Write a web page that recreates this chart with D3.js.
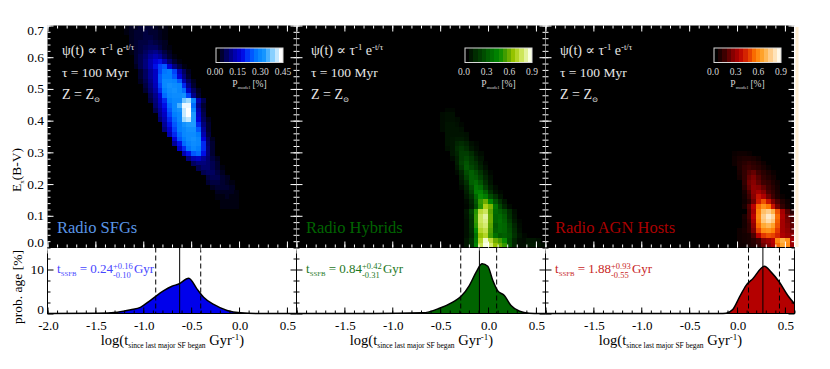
<!DOCTYPE html>
<html>
<head>
<meta charset="utf-8">
<title>Radio SFGs, Hybrids and AGN hosts</title>
<script src="https://cdn.jsdelivr.net/npm/d3@7"></script>
<style>
    body { margin: 0; background: #fff; }
    text { font-family: "Liberation Serif", "DejaVu Serif", serif; }
</style>
</head>
<body>
<script>
// heat map cells, one line per row: [row from bottom, first column, P_model in 0.01 %]
var sfgCells = [
    [45,16,[1,2,2,3,3,3,2,1,1]], [44,16,[1,2,3,3,4,3,3,2,1]], [43,17,[2,3,3,4,4,3,2,1]],
    [42,17,[2,3,4,4,5,4,3,2]], [41,17,[2,3,4,5,6,6,4,2,1]], [40,17,[1,3,4,6,8,9,7,4,2]],
    [39,18,[3,5,7,10,12,10,6,3,1]], [38,18,[3,5,8,12,16,18,12,7,3,1]], [37,18,[2,5,8,12,18,22,24,16,8,4,1]],
    [36,19,[3,6,10,14,22,27,28,22,12,6,2]], [35,19,[3,6,10,14,24,28,28,24,16,8,3]],
    [34,19,[2,5,9,14,24,30,30,29,24,12,6,2]], [33,20,[4,8,13,22,30,32,31,30,20,9,3]],
    [32,20,[3,7,11,20,28,31,32,30,26,14,6,2]], [31,21,[5,9,16,26,30,31,31,32,22,9,3]],
    [30,21,[4,8,14,20,28,30,30,38,40,30,12,5]], [29,22,[7,12,18,26,30,36,44,44,26,9,3]],
    [28,22,[5,10,16,24,30,32,42,45,30,12,4]], [27,23,[9,14,22,28,30,42,45,34,14,5]],
    [26,23,[7,12,20,26,30,40,42,34,16,6,2]], [25,24,[10,18,24,28,32,34,34,20,8,3]],
    [24,24,[8,15,22,28,30,32,32,24,10,3]], [23,25,[12,20,26,30,31,31,28,12,4]],
    [22,26,[16,24,28,31,32,30,16,6,2]], [21,26,[10,18,26,29,31,30,20,7,3]],
    [20,27,[14,20,27,30,28,20,8,3]], [19,28,[12,18,24,26,18,8,3]], [18,29,[8,12,14,10,7,4,2]],
    [17,30,[6,8,8,7,5,3]], [16,31,[5,7,7,5,3,1]], [15,32,[5,6,6,4,2]], [14,33,[4,5,5,3,2]],
    [13,33,[3,4,4,3,2,1]], [12,34,[2,3,3,3,2]], [11,35,[2,2,2,2,1]], [10,35,[1,1,2,1,1]],
    [9,36,[1,1,1,1]], [8,36,[1,1,1,1]]
];
var hybridCells = [
    [28,31,[2,2]], [27,30,[3,4,4]], [26,30,[3,4,4,3]], [25,30,[3,5,5,4,2]], [24,30,[3,5,5,5,4]],
    [23,31,[5,5,5,5,4]], [22,31,[5,6,7,7,5]], [21,31,[5,6,10,12,9,4,2]], [20,31,[4,6,12,16,12,6,3]],
    [19,32,[6,10,18,18,12,6,3]], [18,32,[3,8,18,22,16,9,5]], [17,33,[8,20,26,18,14,7,2]],
    [16,33,[6,16,28,22,16,9,4]], [15,33,[3,10,24,30,24,15,7,2]], [14,34,[8,20,30,28,20,10,4]],
    [13,34,[6,14,30,34,26,13,5]], [12,34,[3,10,24,38,34,20,8,3]], [11,35,[8,20,40,42,30,14,5,2]],
    [10,35,[6,14,32,46,40,24,14,5]], [9,35,[3,10,28,52,60,44,26,14,6]],
    [8,35,[2,8,24,50,70,62,38,22,10,3]], [7,35,[6,20,50,74,78,58,34,30,24,12,4]],
    [6,35,[5,16,52,78,84,60,32,34,28,14,5]], [5,35,[4,14,52,78,82,60,32,36,30,18,7,2]],
    [4,35,[4,14,50,76,80,58,28,34,32,22,10,3]], [3,35,[4,12,44,72,76,56,30,34,32,24,12,4]],
    [2,35,[4,10,36,66,72,54,36,28,30,26,14,6,2]], [1,35,[6,14,40,72,88,74,60,54,46,24,10,4,3,6,6,4]],
    [0,35,[6,14,44,76,90,80,66,60,52,26,10,4,4,7,7,5,3]]
];
var agnCells = [
    [19,39,[2,3,3,2]], [18,39,[3,5,6,6,5,3]], [17,39,[3,6,8,10,8,6,3]], [16,40,[6,10,12,10,8,5,2]],
    [15,40,[5,10,15,18,12,8,5,2]], [14,40,[4,10,18,22,16,10,7,4]], [13,41,[10,20,24,18,12,10,6,3]],
    [12,41,[8,18,26,24,18,12,8,4]], [11,41,[5,14,26,30,24,14,10,5]], [10,41,[4,12,24,38,32,20,12,6,2]],
    [9,41,[3,8,20,40,50,38,22,14,7,3]], [8,41,[5,16,34,54,62,56,38,20,10,4]],
    [7,42,[14,30,58,74,78,70,50,30,16,8]], [6,41,[5,14,34,60,78,86,80,54,32,20,14]],
    [5,41,[4,12,30,58,76,82,76,52,30,22,16]], [4,41,[4,10,26,54,68,72,66,50,30,24,18]],
    [3,40,[3,5,10,22,48,60,62,58,46,30,26,20]], [2,40,[3,4,5,14,34,46,50,48,42,32,28,26]],
    [1,40,[3,4,5,8,12,24,28,34,60,70,62,30]], [0,40,[3,3,5,7,10,20,24,32,54,66,60,28]]
];

// colour ramps and their colour bar ticks
var blueRamp = ["#000000","#00005a","#0000a8","#0000e0","#0048ff","#0080ff","#1898ff","#90d4ff","#ffffff"];
var greenRamp = ["#000000","#002a00","#004800","#006a00","#008a00","#50a000","#a0c800","#d0e860","#f8ffe0"];
var redRamp = ["#000000","#380000","#800000","#b80000","#e03000","#ff7a00","#ffa830","#ffd090","#fff8e8"];
var sfgBarTicks = ["0.00","0.15","0.30","0.45"];
var otherBarTicks = ["0.0","0.3","0.6","0.9"];

// age probability curves
var sfgAge = [-2,-1.48,-1.27,-1.13,-1.03,-0.925,-0.786,-0.70,-0.63,-0.525,-0.44,-0.37,-0.265,-0.125,0.015,0.22,0.6];
var sfgProb = [0,0.07,0.3,0.84,1.4,3.0,5.2,6.2,6.7,8.0,5.6,3.7,2.05,0.68,0.16,0,0];
var hybridAge = [-2,-1.2,-0.681,-0.507,-0.368,-0.281,-0.194,-0.124,-0.062,-0.003,0.05,0.10,0.17,0.24,0.33,0.43,0.54,0.6];
var hybridProb = [0,0,0.15,1.2,2.6,3.9,6.4,9.4,11.3,10.75,7.5,5.2,4.1,1.8,0.5,0.07,0,0];
var agnAge = [-2,-0.18,-0.114,-0.045,0.025,0.095,0.165,0.286,0.356,0.443,0.53,0.6];
var agnProb = [0,0,0.07,0.9,3.7,6.4,7.9,10.75,9.4,7.1,4.1,2.2];

// 16th, 50th and 84th percentile lines
var sfgLines = [-0.87,-0.62,-0.40];
var hybridLines = [-0.285,-0.09,0.09];
var agnLines = [0.12,0.27,0.443];

var colTicks = [-2,-1.5,-1,-0.5,0,0.5];
var eTicks = [0,0.1,0.2,0.3,0.4,0.5,0.6,0.7];
var probTicks = [0,10];

var panels = [
    {name: "Radio SFGs", nameColor: "#5a96e6", cells: sfgCells, ramp: blueRamp, max: 45, barTicks: sfgBarTicks,
     age: sfgAge, prob: sfgProb, lines: sfgLines, fill: "#0000eb", tColor: "#4646ff", t: ["0.24","+0.16","-0.10"], first: true},
    {name: "Radio Hybrids", nameColor: "#006400", cells: hybridCells, ramp: greenRamp, max: 90, barTicks: otherBarTicks,
     age: hybridAge, prob: hybridProb, lines: hybridLines, fill: "#006400", tColor: "#1e781e", t: ["0.84","+0.42","-0.31"], first: false},
    {name: "Radio AGN Hosts", nameColor: "#aa0000", cells: agnCells, ramp: redRamp, max: 90, barTicks: otherBarTicks,
     age: agnAge, prob: agnProb, lines: agnLines, fill: "#b40000", tColor: "#c81e1e", t: ["1.88","+0.93","-0.55"], first: false}
];

var w = 830, h = 369;
var panelLeft = 47.5, panelW = 249;
var top1 = 25.5, bot1 = 247.5, bot2 = 313.5;

var svg = d3.select("body").append("svg").attr("width", w).attr("height", h).style("display", "block");

var yE = d3.scaleLinear().domain([0, 0.7]).range([bot1, top1]);
var yProb = d3.scaleLinear().domain([0, 15]).range([bot2, bot1]);
var rowBand = d3.scaleBand().domain(d3.range(46)).range([bot1, top1]);

var xMinor = d3.range(-20, 7).map(function(d) { return d / 10; });
var eMinor = d3.range(0, 36).map(function(d) { return d / 50; });
var probMinor = [2.5, 5, 7.5, 12.5, 15];

panels.forEach(function(p, i) {
    var x0 = panelLeft + i * panelW;
    drawPanel(p, x0, x0 + panelW);
});

// cream strip on the right of the last heat map
svg.append("rect").attr("x", 795.5).attr("y", 27).attr("width", 3).attr("height", 220).attr("fill", "#ffeed2");

function drawPanel(p, x0, x1) {
    var x = d3.scaleLinear().domain([-2, 0.6]).range([x0, x1]);
    var colBand = d3.scaleBand().domain(d3.range(52)).range([x0, x1]);
    var color = d3.scaleLinear()
        .domain(p.ramp.map(function(d, i) { return p.max * i / (p.ramp.length - 1); }))
        .range(p.ramp);

    // heat map
    svg.append("rect").attr("x", x0).attr("y", top1).attr("width", x1 - x0).attr("height", bot1 - top1).attr("fill", "#000");

    var cells = [];
    p.cells.forEach(function(r) {
        r[2].forEach(function(v, k) { cells.push({row: r[0], col: r[1] + k, v: v}); });
    });
    svg.append("g").selectAll("rect")
        .data(cells).enter().append("rect")
        .attr("x", function(d) { return colBand(d.col); })
        .attr("y", function(d) { return rowBand(d.row); })
        .attr("width", colBand.bandwidth() + 0.3)
        .attr("height", rowBand.bandwidth() + 0.3)
        .attr("shape-rendering", "crispEdges")
        .attr("fill", function(d) { return color(d.v); });

    svg.append("line").attr("x1", x1).attr("x2", x1).attr("y1", top1).attr("y2", bot1).attr("stroke", "#fff").attr("stroke-width", 1);

    // white ticks on the heat map
    var wTicks = svg.append("g");
    ticks(wTicks, d3.axisBottom(x), bot1, "y", colTicks, xMinor, "#fff");
    ticks(wTicks, d3.axisTop(x), top1, "y", colTicks, xMinor, "#fff");
    ticks(wTicks, d3.axisLeft(yE), x0, "x", eTicks, eMinor, "#fff");
    ticks(wTicks, d3.axisRight(yE), x1, "x", eTicks, eMinor, "#fff");

    // annotations
    var ax = x0 + 14.5;
    var note = svg.append("g").attr("fill", "#e6e6e6");
    rich(note.append("text").attr("x", ax).attr("y", 55).attr("font-size", 14),
        [["ψ(t) ∝ τ"], ["-1", "sup"], [" e"], ["-t/τ", "sup"]]);
    note.append("text").attr("x", ax).attr("y", 77).attr("font-size", 13.5).text("τ = 100 Myr");
    rich(note.append("text").attr("x", ax).attr("y", 99).attr("font-size", 14), [["Z = Z"], ["⊙", "sub"]]);

    svg.append("text").attr("x", x0 + 9.5).attr("y", 233).attr("font-size", 16.5).attr("fill", p.nameColor).text(p.name);

    drawColorBar(p, color, x0 + 168.5);

    // lower panel: age probability
    var area = d3.area().x(function(d) { return x(d[0]); }).y0(yProb(0)).y1(function(d) { return yProb(d[1]); }).curve(d3.curveMonotoneX);
    var line = d3.line().x(function(d) { return x(d[0]); }).y(function(d) { return yProb(d[1]); }).curve(d3.curveMonotoneX);
    var pts = d3.zip(p.age, p.prob);

    svg.append("path").datum(pts).attr("d", area).attr("fill", p.fill);
    svg.append("path").datum(pts).attr("d", line).attr("fill", "none").attr("stroke", "#000").attr("stroke-width", 1.5);

    p.lines.forEach(function(v, k) {
        svg.append("line")
            .attr("x1", x(v)).attr("x2", x(v)).attr("y1", bot1).attr("y2", bot2)
            .attr("stroke", "#000").attr("stroke-width", 1)
            .attr("stroke-dasharray", k == 1 ? null : "5,3");
    });

    svg.append("rect").attr("x", x0).attr("y", bot1).attr("width", x1 - x0).attr("height", bot2 - bot1)
        .attr("fill", "none").attr("stroke", "#000").attr("stroke-width", 1);

    var bTicks = svg.append("g");
    ticks(bTicks, d3.axisBottom(x), bot2, "y", colTicks, xMinor, "#000");
    ticks(bTicks, d3.axisTop(x), bot1, "y", colTicks, xMinor, "#fff");
    ticks(bTicks, d3.axisLeft(yProb), x0, "x", probTicks, probMinor, "#000");
    ticks(bTicks, d3.axisRight(yProb), x1, "x", probTicks, probMinor, "#000");

    // bottom tick labels
    colTicks.forEach(function(t) {
        if (t == -2 && !p.first) return;
        svg.append("text").attr("x", x(t) + 1).attr("y", 330).attr("text-anchor", "middle").attr("font-size", 13).text(t.toFixed(1));
    });

    rich(svg.append("text").attr("x", x0 + 125).attr("y", 345).attr("text-anchor", "middle").attr("font-size", 14.5),
        [["log(t"], ["since last major SF began", "sub"], [" Gyr"], ["-1", "sup"], [")"]]);

    // t_SSFB label, sup and sub stacked
    var tLabel = svg.append("text").attr("x", x0 + 9.5).attr("y", 273).attr("font-size", 13).attr("fill", p.tColor);
    rich(tLabel, [["t"], ["SSFB", "sub"], [" = " + p.t[0]]]);
    var endX = tLabel.node().getComputedTextLength() + x0 + 9.5;
    svg.append("text").attr("x", endX).attr("y", 268.5).attr("font-size", 8.5).attr("fill", p.tColor).text(p.t[1]);
    svg.append("text").attr("x", endX).attr("y", 277.5).attr("font-size", 8.5).attr("fill", p.tColor).text(p.t[2]);
    svg.append("text").attr("x", endX + 21).attr("y", 273).attr("font-size", 13).attr("fill", p.tColor).text("Gyr");

    if (p.first) {
        eTicks.forEach(function(t) {
            var dy = t == 0.7 ? 9 : (t == 0 ? -1 : 4.5);
            svg.append("text").attr("x", 44).attr("y", yE(t) + dy).attr("text-anchor", "end").attr("font-size", 13.5).text(t.toFixed(1));
        });
        probTicks.forEach(function(t) {
            svg.append("text").attr("x", 44).attr("y", yProb(t) + (t == 0 ? 0.5 : 4.5)).attr("text-anchor", "end").attr("font-size", 13.5).text(t);
        });
        rich(svg.append("text").attr("transform", "translate(21,170) rotate(-90)").attr("text-anchor", "middle").attr("font-size", 13.5),
            [["E"], ["x", "sub"], ["(B-V)"]]);
        svg.append("text").attr("transform", "translate(22,287) rotate(-90)").attr("text-anchor", "middle").attr("font-size", 13.5).text("prob. age [%]");
    }
}

function drawColorBar(p, color, bx) {
    var bw = 67, by = 48, bh = 14.5;
    var blocks = d3.range(16);
    var band = d3.scaleBand().domain(blocks).range([bx, bx + bw]);
    var g = svg.append("g");
    g.selectAll("rect").data(blocks).enter().append("rect")
        .attr("x", function(d) { return band(d); })
        .attr("y", by)
        .attr("width", band.bandwidth() + 0.3)
        .attr("height", bh)
        .attr("shape-rendering", "crispEdges")
        .attr("fill", function(d) { return color(p.max * d / 15); });
    g.append("rect").attr("x", bx).attr("y", by).attr("width", bw).attr("height", bh)
        .attr("fill", "none").attr("stroke", "#d8d8d8").attr("stroke-width", 1);

    var pos = d3.scalePoint().domain(p.barTicks).range([bx - 1, bx + bw]);
    p.barTicks.forEach(function(t) {
        g.append("text").attr("x", pos(t)).attr("y", 75).attr("text-anchor", "middle")
            .attr("font-size", 9.5).attr("fill", "#d8d8d8").text(t);
    });
    rich(g.append("text").attr("x", bx + bw / 2).attr("y", 86.5).attr("text-anchor", "middle")
        .attr("font-size", 9.5).attr("fill", "#d8d8d8"),
        [["P"], ["model", "sub"], [" [%]"]]);
}

// inward major and minor ticks through a d3 axis
function ticks(g, axis, pos, dir, major, minor, col) {
    [[minor, 3], [major, 6]].forEach(function(t) {
        var a = g.append("g")
            .attr("transform", dir == "y" ? "translate(0," + pos + ")" : "translate(" + pos + ",0)")
            .call(axis.tickValues(t[0]).tickSize(-t[1]).tickFormat(""));
        a.select(".domain").remove();
        a.selectAll("line").attr("stroke", col);
    });
}

// text with sub and superscript pieces
function rich(text, parts) {
    var shift = 0;
    var fs = +text.attr("font-size");
    parts.forEach(function(part) {
        var want = part[1] == "sup" ? -0.36 * fs : (part[1] == "sub" ? 0.24 * fs : 0);
        text.append("tspan")
            .attr("dy", want - shift)
            .attr("font-size", part[1] == "sup" ? fs * 0.62 : (part[1] == "sub" ? fs * 0.52 : fs))
            .text(part[0]);
        shift = want;
    });
}
</script>
</body>
</html>
